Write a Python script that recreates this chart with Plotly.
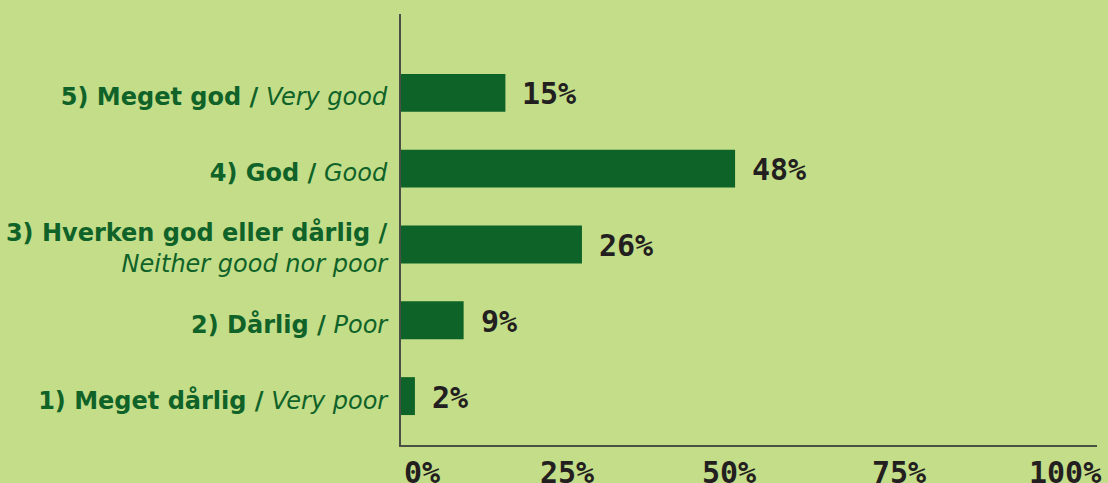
import plotly.graph_objects as go

# Survey answers, bottom to top
label_dk = ["1) Meget dårlig /", "2) Dårlig /", "3) Hverken god eller dårlig /", "4) God /", "5) Meget god /"]
label_en = ["Very poor", "Poor", "Neither good nor poor", "Good", "Very good"]
values = [2, 9, 26, 48, 15]
value_text = ["2%", "9%", "26%", "48%", "15%"]
tick_vals = [0, 25, 50, 75, 100]
tick_text = ["0%", "25%", "50%", "75%", "100%"]

BG = "#c3dd89"
BAR = "#0e6328"
LABEL = "#0f6228"
NUM = "#231f20"
AXIS = "#4a5044"
NUM_FONT = dict(family="DejaVu Sans Mono", size=30, color=NUM, weight="bold")

ticktext = []
for dk, en in zip(label_dk, label_en):
    if len(dk) > 20:
        ticktext.append(f"<b>{dk}</b><br><i>{en}</i>")
    else:
        ticktext.append(f"<b>{dk}</b> <i>{en}</i>")

fig = go.Figure(go.Bar(
    x=values, y=label_en, orientation="h",
    marker=dict(color=BAR, line=dict(width=0)),
    width=0.5, hoverinfo="skip",
))

# value labels to the right of each bar
for v, c, t in zip(values, label_en, value_text):
    fig.add_annotation(x=v, y=c, text=t, showarrow=False, xanchor="left",
                       xshift=15, yshift=-1, font=NUM_FONT)

# x tick labels spread like the original layout
shifts = [21, -8, -20, -24, -32]
for v, t, s in zip(tick_vals, tick_text, shifts):
    fig.add_annotation(x=v, y=0, xref="x", yref="paper", text=t, showarrow=False,
                       xanchor="center", yanchor="top", xshift=s, yshift=-8,
                       font=NUM_FONT)

fig.update_layout(
    width=1108, height=483,
    margin=dict(l=401, r=11, t=14, b=38),
    paper_bgcolor=BG, plot_bgcolor=BG,
    showlegend=False,
    font=dict(family="DejaVu Sans", color=LABEL),
)
fig.update_xaxes(range=[0, 100], showgrid=False, zeroline=False, showticklabels=False,
                 showline=True, linecolor=AXIS, linewidth=2, fixedrange=True)
fig.update_yaxes(type="category", categoryorder="array", categoryarray=label_en,
                 tickvals=label_en, ticktext=ticktext, automargin=False,
                 range=[-0.645, 5.04], showgrid=False, zeroline=False,
                 showline=True, linecolor=AXIS, linewidth=2,
                 ticks="outside", ticklen=7, tickcolor="rgba(0,0,0,0)",
                 ticklabelshift=4,
                 tickfont=dict(family="DejaVu Sans", size=24, color=LABEL),
                 fixedrange=True)

fig.write_html("out.html", config={"displayModeBar": False},
               post_script="document.body.style.margin='0';")
